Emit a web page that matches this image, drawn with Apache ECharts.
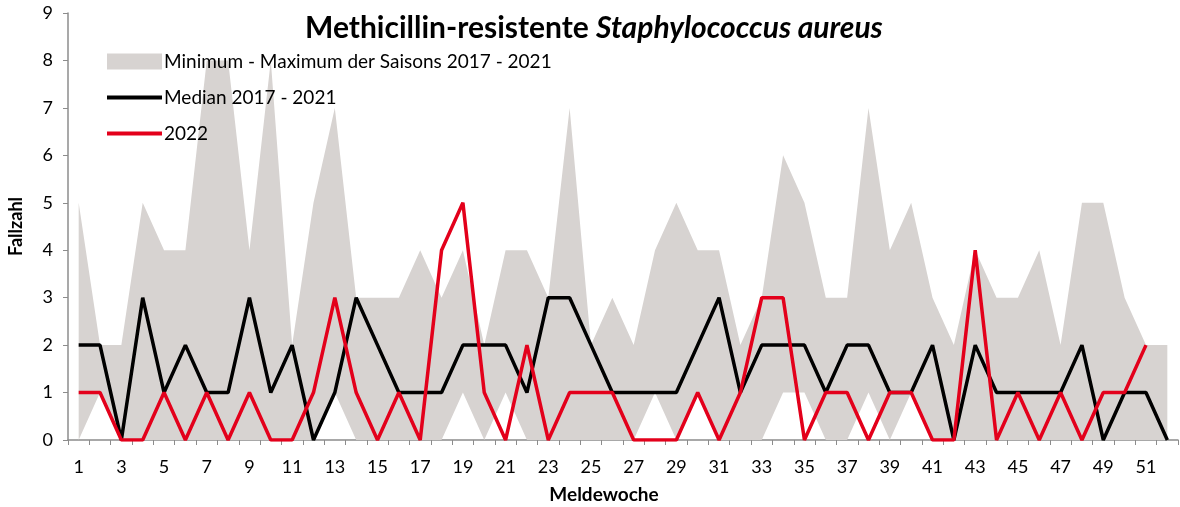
<!DOCTYPE html>
<html>
<head>
<meta charset="utf-8">
<script src="https://cdn.jsdelivr.net/npm/echarts@6/dist/echarts.min.js"></script>
<style>
  html, body { margin: 0; padding: 0; background: #fff; }
  #chart { width: 1180px; height: 507px; }
</style>
</head>
<body>
<div id="chart"></div>
<script>
// Meldewochen 1..52
const weeks = Array.from({ length: 52 }, (_, i) => String(i + 1))

// Minimum / Maximum der Saisons 2017 - 2021
const minValues = [0, 1, 0, 0, 0, 0, 0, 0, 0, 0, 0, 0, 1, 0, 0, 0, 0, 0, 1, 0,
  1, 0, 0, 0, 0, 0, 0, 1, 0, 1, 0, 0, 0, 1, 1, 0, 0, 1, 0, 1,
  0, 0, 0, 0, 0, 0, 0, 0, 0, 0, 0, 0]
const maxValues = [5, 2, 2, 5, 4, 4, 8, 8, 4, 8, 2, 5, 7, 3, 3, 3, 4, 3, 4, 2,
  4, 4, 3, 7, 2, 3, 2, 4, 5, 4, 4, 2, 3, 6, 5, 3, 3, 7, 4, 5,
  3, 2, 4, 3, 3, 4, 2, 5, 5, 3, 2, 2]

// Median 2017 - 2021
const medianValues = [2, 2, 0, 3, 1, 2, 1, 1, 3, 1, 2, 0, 1, 3, 2, 1, 1, 1, 2, 2,
  2, 1, 3, 3, 2, 1, 1, 1, 1, 2, 3, 1, 2, 2, 2, 1, 2, 2, 1, 1,
  2, 0, 2, 1, 1, 1, 1, 2, 0, 1, 1, 0]

// 2022
const values2022 = [1, 1, 0, 0, 1, 0, 1, 0, 1, 0, 0, 1, 3, 1, 0, 1, 0, 4, 5, 1,
  0, 2, 0, 1, 1, 1, 0, 0, 0, 1, 0, 1, 3, 3, 0, 1, 1, 0, 1, 1,
  0, 0, 4, 0, 1, 0, 1, 0, 1, 1, 2, null]

const yTicks = [0, 9]

const FONT = 'Lato'
const GREY = '#d7d3d1'
const RED = '#e3001b'
const rangeName = 'Minimum - Maximum der Saisons 2017 - 2021'
const medianName = 'Median 2017 - 2021'
const name2022 = '2022'

const chart = echarts.init(document.getElementById('chart'))

const option = {
  animation: false,
  textStyle: { fontFamily: FONT },
  title: {
    text: '{b|Methicillin-resistente }{i|Staphylococcus aureus}',
    left: 300,
    top: 8,
    textStyle: {
      rich: {
        b: { fontFamily: FONT, fontSize: 30, fontWeight: 'bold', color: '#000' },
        i: { fontFamily: FONT, fontSize: 30, fontWeight: 'bold', fontStyle: 'italic', color: '#000' }
      }
    }
  },
  legend: {
    orient: 'vertical',
    left: 105,
    top: 52,
    padding: 0,
    itemWidth: 55,
    itemHeight: 16,
    itemGap: 17,
    textStyle: { fontFamily: FONT, fontSize: 19, color: '#000', padding: [0, 0, 0, -3] },
    data: [
      { name: rangeName, icon: 'rect', itemStyle: { color: GREY } },
      { name: medianName, itemStyle: { opacity: 0 }, lineStyle: { width: 4, color: '#000' } },
      { name: name2022, itemStyle: { opacity: 0 }, lineStyle: { width: 4, color: RED } }
    ]
  },
  grid: {
    left: 68,
    right: 2,
    top: 13,
    bottom: 67,
    outerBoundsMode: 'none'
  },
  xAxis: {
    type: 'category',
    data: weeks,
    boundaryGap: true,
    name: 'Meldewoche',
    nameLocation: 'middle',
    nameGap: 45,
    nameTextStyle: { fontFamily: FONT, fontSize: 19, fontWeight: 'bold', color: '#000', padding: [0, 38, 0, 0] },
    axisLine: { lineStyle: { color: '#8c8c8c', width: 1.5 } },
    axisTick: { show: true, interval: 0, length: 5, lineStyle: { color: '#8c8c8c' } },
    axisLabel: { interval: 1, fontFamily: FONT, fontSize: 18, color: '#000', margin: 18 },
    splitLine: { show: false }
  },
  yAxis: {
    type: 'value',
    min: yTicks[0],
    max: yTicks[1],
    interval: 1,
    name: 'Fallzahl',
    nameLocation: 'middle',
    nameRotate: 90,
    nameGap: 43,
    nameTextStyle: { fontFamily: FONT, fontSize: 18, fontWeight: 'bold', color: '#000' },
    axisLine: { show: true, lineStyle: { color: '#8c8c8c', width: 1.5 } },
    axisTick: { show: true, length: 5, lineStyle: { color: '#8c8c8c' } },
    axisLabel: { fontFamily: FONT, fontSize: 18, color: '#000', margin: 15 },
    splitLine: { show: false }
  },
  series: [
    {
      name: 'min',
      type: 'line',
      stack: 'band',
      data: minValues,
      symbol: 'none',
      lineStyle: { opacity: 0 },
      areaStyle: { opacity: 0 },
      silent: true
    },
    {
      name: rangeName,
      type: 'line',
      stack: 'band',
      data: maxValues.map((v, i) => v - minValues[i]),
      symbol: 'none',
      lineStyle: { opacity: 0 },
      itemStyle: { color: GREY },
      areaStyle: { color: GREY, opacity: 1 }
    },
    {
      name: medianName,
      type: 'line',
      data: medianValues,
      symbol: 'none',
      itemStyle: { color: '#000' },
      lineStyle: { color: '#000', width: 3.5 }
    },
    {
      name: name2022,
      type: 'line',
      data: values2022,
      symbol: 'none',
      itemStyle: { color: RED },
      lineStyle: { color: RED, width: 3.5 }
    }
  ]
}

chart.setOption(option)
</script>
</body>
</html>
